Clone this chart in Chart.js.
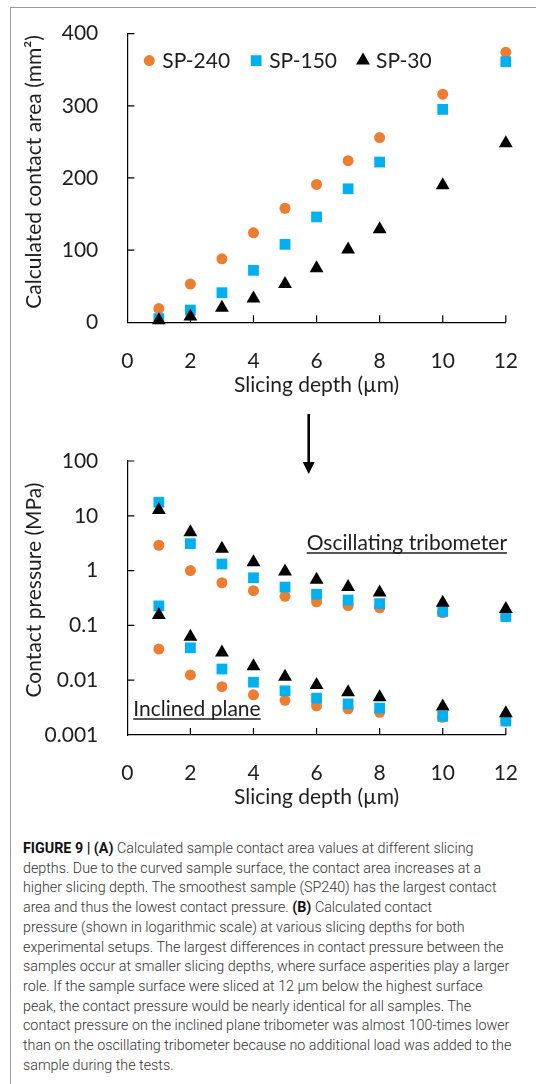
<!DOCTYPE html>
<html>
<head>
<meta charset="utf-8">
<script src="https://cdn.jsdelivr.net/npm/chart.js@4.4.1/dist/chart.umd.min.js"></script>
<style>
  html, body { margin: 0; padding: 0; background: #fff; }
  body { width: 536px; height: 1084px; position: relative; overflow: hidden; }
  #frame { position: absolute; left: 10px; top: 7px; width: 700px; height: 1200px;
           border-top: 1px solid #9a9a9a; border-left: 1px solid #9a9a9a; }
  canvas { position: absolute; left: 0; }
  #areaChart { top: 0; }
  #pressureChart { top: 400px; }
  #caption { position: absolute; left: 23px; top: 839px; white-space: nowrap;
             font-family: Roboto, "Liberation Sans", sans-serif; font-size: 14.3px; font-weight: 300;
             line-height: 19.7px; color: #333; }
  #caption b { color: #111; font-weight: 700; }
</style>
</head>
<body>
<div id="frame"></div>
<canvas id="areaChart" width="536" height="410"></canvas>
<canvas id="pressureChart" width="536" height="410"></canvas>
<div id="caption"><b>FIGURE 9 | (A)</b> Calculated sample contact area values at different slicing<br>depths. Due to the curved sample surface, the contact area increases at a<br>higher slicing depth. The smoothest sample (SP240) has the largest contact<br>area and thus the lowest contact pressure. <b>(B)</b> Calculated contact<br>pressure (shown in logarithmic scale) at various slicing depths for both<br>experimental setups. The largest differences in contact pressure between the<br>samples occur at smaller slicing depths, where surface asperities play a larger<br>role. If the sample surface were sliced at 12 µm below the highest surface<br>peak, the contact pressure would be nearly identical for all samples. The<br>contact pressure on the inclined plane tribometer was almost 100-times lower<br>than on the oscillating tribometer because no additional load was added to the<br>sample during the tests.</div>
<script>
// Slicing depths (µm)
const depths = [1, 2, 3, 4, 5, 6, 7, 8, 10, 12];

// (A) calculated contact area, mm²
const areaSP240 = [19, 53, 88, 124, 158, 191, 224, 256, 316, 374];
const areaSP150 = [5, 17, 41, 72, 108, 146, 185, 222, 295, 361];
const areaSP30  = [3, 8, 20, 33, 53, 75, 101, 129, 190, 248];

// (B) contact pressure, MPa — oscillating tribometer
const oscSP240 = [2.9, 1.0, 0.60, 0.43, 0.34, 0.27, 0.23, 0.21, 0.17, 0.145];
const oscSP150 = [17.7, 3.1, 1.32, 0.74, 0.50, 0.37, 0.29, 0.25, 0.18, 0.145];
const oscSP30  = [12.8, 5.0, 2.5, 1.42, 0.96, 0.68, 0.50, 0.40, 0.26, 0.20];

// (B) contact pressure, MPa — inclined plane
const inclSP240 = [0.037, 0.0125, 0.0076, 0.0054, 0.0043, 0.0034, 0.0030, 0.0026, 0.0021, 0.0018];
const inclSP150 = [0.227, 0.039, 0.016, 0.0092, 0.0064, 0.0047, 0.0037, 0.0031, 0.0022, 0.0018];
const inclSP30  = [0.155, 0.062, 0.032, 0.018, 0.0116, 0.0082, 0.0060, 0.0049, 0.0033, 0.0025];

// Axis ticks
const depthTicks = [0, 2, 4, 6, 8, 10, 12];
const areaTicks = [0, 100, 200, 300, 400];
const pressureTicks = [0.001, 0.01, 0.1, 1, 10, 100];
const pressureTickLabels = ['0.001', '0.01', '0.1', '1', '10', '100'];

const FONT = 'Lato, "Open Sans", sans-serif';
const TEXT = '#1e1e1e';
const AXIS = '#000000';

const markers = {
  'SP-240': { pointStyle: 'circle',   radius: 5.5, color: '#ED7D31', order: 2 },
  'SP-150': { pointStyle: 'rect',     radius: 7.6, color: '#00B0F0', order: 1 },
  'SP-30':  { pointStyle: 'triangle', radius: 8,   color: '#000000', order: 0 }
};

function series(label, values) {
  const m = markers[label];
  return {
    label,
    data: depths.map((d, i) => ({ x: d, y: values[i] })),
    showLine: false,
    pointStyle: m.pointStyle,
    pointRadius: m.radius,
    pointHoverRadius: m.radius,
    pointBackgroundColor: m.color,
    pointBorderColor: m.color,
    pointBorderWidth: 0,
    order: m.order,
    clip: false
  };
}

function paintMarker(ctx, style, r, x, y) {
  ctx.beginPath();
  if (style === 'circle') {
    ctx.arc(x, y, r, 0, Math.PI * 2);
  } else if (style === 'rect') {
    const h = r * Math.SQRT1_2;
    ctx.rect(x - h, y - h, 2 * h, 2 * h);
  } else {
    ctx.moveTo(x, y - r);
    ctx.lineTo(x + Math.sin(2 * Math.PI / 3) * r, y + r / 2);
    ctx.lineTo(x - Math.sin(2 * Math.PI / 3) * r, y + r / 2);
    ctx.closePath();
  }
  ctx.fill();
}

// Excel-style tick marks pointing into the plot area
const inwardTicks = {
  id: 'inwardTicks',
  beforeDatasetsDraw(chart) {
    const { ctx, chartArea, scales: { x, y } } = chart;
    const len = 7;
    ctx.save();
    ctx.strokeStyle = AXIS;
    ctx.lineWidth = 1.2;
    ctx.beginPath();
    x.ticks.forEach(t => {
      if (t.value === x.min) return;
      const px = x.getPixelForValue(t.value);
      ctx.moveTo(px, chartArea.bottom);
      ctx.lineTo(px, chartArea.bottom - len);
    });
    y.ticks.forEach(t => {
      if (t.value === y.min) return;
      const py = y.getPixelForValue(t.value);
      ctx.moveTo(chartArea.left, py);
      ctx.lineTo(chartArea.left + len, py);
    });
    ctx.stroke();
    ctx.restore();
  }
};

// Rotated y title, in-plot legend, notes and arrow
const decorations = {
  id: 'decorations',
  afterDraw(chart, args, opts) {
    const { ctx, chartArea } = chart;
    const midY = (chartArea.top + chartArea.bottom) / 2;

    ctx.save();
    ctx.fillStyle = TEXT;
    ctx.font = '21px ' + FONT;
    ctx.textAlign = 'center';
    ctx.textBaseline = 'middle';
    ctx.translate(opts.yTitleX, midY + opts.yTitleShift);
    ctx.rotate(-Math.PI / 2);
    ctx.fillText(opts.yTitle, 0, 0);
    ctx.restore();

    if (opts.legend) {
      ctx.save();
      ctx.font = '21px ' + FONT;
      ctx.textBaseline = 'middle';
      ctx.textAlign = 'left';
      let x = chartArea.left + opts.legend.offsetX;
      const y = chartArea.top + opts.legend.offsetY;
      chart.data.datasets.forEach(ds => {
        const m = markers[ds.label];
        ctx.fillStyle = m.color;
        paintMarker(ctx, m.pointStyle, m.radius, x, y);
        ctx.fillStyle = TEXT;
        ctx.fillText(ds.label, x + 13, y + 1);
        x += 13 + ctx.measureText(ds.label).width + 26;
      });
      ctx.restore();
    }

    (opts.notes || []).forEach(n => {
      ctx.save();
      ctx.font = '21px ' + FONT;
      ctx.fillStyle = TEXT;
      ctx.textAlign = 'left';
      ctx.textBaseline = 'middle';
      ctx.fillText(n.text, n.x, n.y);
      const w = ctx.measureText(n.text).width;
      ctx.strokeStyle = TEXT;
      ctx.lineWidth = 1.5;
      ctx.beginPath();
      ctx.moveTo(n.x, n.y + 10);
      ctx.lineTo(n.x + w, n.y + 10);
      ctx.stroke();
      ctx.restore();
    });

    if (opts.arrow) {
      const a = opts.arrow;
      ctx.save();
      ctx.strokeStyle = '#000';
      ctx.fillStyle = '#000';
      ctx.lineWidth = 2.6;
      ctx.beginPath();
      ctx.moveTo(a.x, a.y1);
      ctx.lineTo(a.x, a.y2 - 10);
      ctx.stroke();
      ctx.beginPath();
      ctx.moveTo(a.x - 6, a.y2 - 12);
      ctx.lineTo(a.x + 6, a.y2 - 12);
      ctx.lineTo(a.x, a.y2);
      ctx.closePath();
      ctx.fill();
      ctx.restore();
    }
  }
};

Chart.defaults.font.family = FONT;
Chart.defaults.color = TEXT;

function depthAxis(height, labelPad, titlePad) {
  return {
    type: 'linear',
    min: 0,
    max: 12,
    afterBuildTicks: s => { s.ticks = depthTicks.map(v => ({ value: v })); },
    afterFit: s => { s.height = height; },
    grid: { display: false },
    border: { display: true, color: AXIS, width: 1.2 },
    ticks: { padding: labelPad, color: TEXT, font: { size: 21 }, maxRotation: 0, autoSkip: false },
    title: { display: true, text: 'Slicing depth (µm)', color: TEXT, font: { size: 21 },
             padding: { top: 0, bottom: titlePad } }
  };
}

const common = {
  responsive: false,
  animation: false,
  events: [],
  plugins: { legend: { display: false }, tooltip: { enabled: false } }
};

new Chart(document.getElementById('areaChart'), {
  type: 'scatter',
  data: {
    datasets: [
      series('SP-240', areaSP240),
      series('SP-150', areaSP150),
      series('SP-30', areaSP30)
    ]
  },
  options: {
    ...common,
    layout: { padding: { top: 30, right: 27.7, left: 0, bottom: 0 } },
    scales: {
      x: depthAxis(87.7, 18, 12.4),
      y: {
        type: 'linear',
        min: 0,
        max: 400,
        afterBuildTicks: s => { s.ticks = areaTicks.map(v => ({ value: v })); },
        afterFit: s => { s.width = 127.3; },
        grid: { display: false },
        border: { display: true, color: AXIS, width: 1.2 },
        ticks: { padding: 21, color: TEXT, font: { size: 21 } }
      }
    },
    plugins: {
      ...common.plugins,
      decorations: {
        yTitle: 'Calculated contact area (mm²)',
        yTitleX: 34,
        yTitleShift: -6,
        legend: { offsetX: 22, offsetY: 27 }
      }
    }
  },
  plugins: [inwardTicks, decorations]
});

new Chart(document.getElementById('pressureChart'), {
  type: 'scatter',
  data: {
    datasets: [
      series('SP-240', oscSP240),
      series('SP-150', oscSP150),
      series('SP-30', oscSP30),
      series('SP-240', inclSP240),
      series('SP-150', inclSP150),
      series('SP-30', inclSP30)
    ]
  },
  options: {
    ...common,
    layout: { padding: { top: 61, right: 23.3, left: 0, bottom: 0 } },
    scales: {
      x: depthAxis(75, 18, 0),
      y: {
        type: 'logarithmic',
        min: 0.001,
        max: 100,
        afterBuildTicks: s => { s.ticks = pressureTicks.map(v => ({ value: v })); },
        afterFit: s => { s.width = 127.3; },
        grid: { display: false },
        border: { display: true, color: AXIS, width: 1.2 },
        ticks: {
          padding: 21, color: TEXT, font: { size: 21 },
          callback: (v, i) => pressureTickLabels[i]
        }
      }
    },
    plugins: {
      ...common.plugins,
      decorations: {
        yTitle: 'Contact pressure (MPa)',
        yTitleX: 34,
        yTitleShift: -8,
        notes: [
          { text: 'Oscillating tribometer', x: 306.7, y: 143 },
          { text: 'Inclined plane', x: 133.3, y: 309 }
        ],
        arrow: { x: 308.7, y1: 14, y2: 74 }
      }
    }
  },
  plugins: [inwardTicks, decorations]
});
</script>
</body>
</html>
